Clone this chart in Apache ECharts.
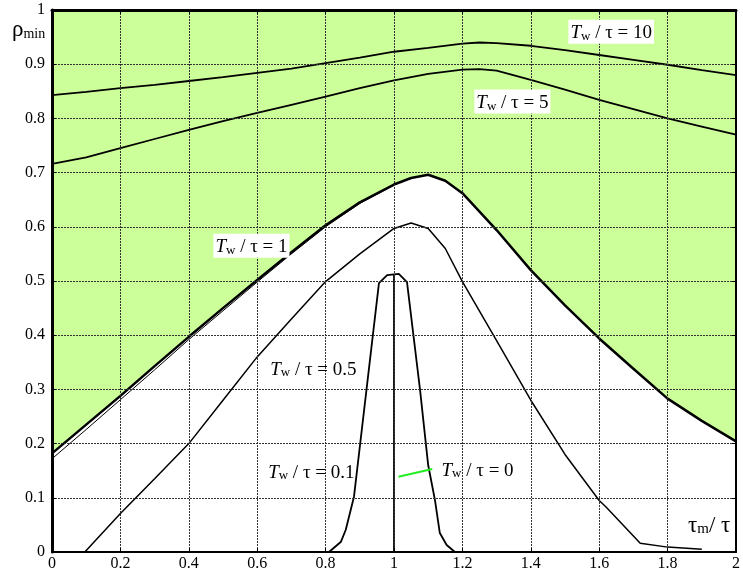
<!DOCTYPE html>
<html>
<head>
<meta charset="utf-8">
<script src="https://cdn.jsdelivr.net/npm/echarts@6/dist/echarts.min.js"></script>
<style>
  html, body { margin: 0; padding: 0; background: #fff; }
  #chart { width: 743px; height: 577px; }
</style>
</head>
<body>
<div id="chart"></div>
<script>
// rho_min vs tau_m/tau for several T_w/tau
const tw10 = [[0,0.843],[0.1,0.849],[0.2,0.856],[0.3,0.862],[0.4,0.869],[0.5,0.876],[0.6,0.884],[0.7,0.892],[0.8,0.902],[0.9,0.912],[1.0,0.923],[1.1,0.93],[1.2,0.938],[1.25,0.94],[1.3,0.939],[1.4,0.934],[1.5,0.926],[1.6,0.917],[1.7,0.908],[1.8,0.899],[1.9,0.889],[2.0,0.88]];
const tw5 = [[0,0.716],[0.1,0.728],[0.2,0.745],[0.3,0.762],[0.4,0.779],[0.5,0.795],[0.6,0.81],[0.7,0.825],[0.8,0.84],[0.9,0.856],[1.0,0.87],[1.1,0.882],[1.2,0.89],[1.25,0.891],[1.3,0.888],[1.4,0.871],[1.5,0.853],[1.6,0.834],[1.7,0.817],[1.8,0.8],[1.9,0.785],[2.0,0.77]];
const tw1 = [[0,0.182],[0.1,0.235],[0.2,0.288],[0.3,0.343],[0.4,0.397],[0.5,0.45],[0.6,0.502],[0.7,0.553],[0.8,0.603],[0.9,0.645],[1.0,0.678],[1.05,0.69],[1.1,0.696],[1.15,0.685],[1.2,0.662],[1.3,0.594],[1.4,0.52],[1.5,0.455],[1.6,0.394],[1.7,0.338],[1.8,0.283],[1.9,0.242],[2.0,0.204]];
const tw1Edge = [[0,0.172],[0.1,0.226],[0.2,0.281],[0.3,0.336],[0.4,0.392],[0.5,0.445],[0.6,0.498],[0.7,0.55],[0.8,0.6],[0.9,0.643],[1.0,0.677]];
const tw05 = [[0.096,0],[0.2,0.071],[0.3,0.135],[0.4,0.2],[0.5,0.28],[0.6,0.36],[0.7,0.43],[0.8,0.499],[0.9,0.55],[1.0,0.597],[1.05,0.607],[1.1,0.597],[1.15,0.56],[1.2,0.499],[1.3,0.39],[1.4,0.28],[1.5,0.18],[1.6,0.095],[1.62,0.083],[1.72,0.016],[1.8,0.009],[1.9,0.005]];
const tw01 = [[0.81,0],[0.845,0.019],[0.859,0.041],[0.883,0.102],[0.956,0.496],[0.98,0.511],[1.014,0.513],[1.038,0.498],[1.076,0.3],[1.1,0.16],[1.12,0.095],[1.134,0.035],[1.154,0.013],[1.178,0]];
const tw0 = [[1.0,0],[1.0,0.511]];
const pointer = [[1.013,0.139],[1.112,0.153]];

// label anchors (data coords: left edge, vertical centre)
const labels = [
  { text: '10', at: [1.51, 0.960], bg: true },
  { text: '5', at: [1.235, 0.831], bg: true },
  { text: '1', at: [0.472, 0.565], bg: true },
  { text: '0.5', at: [0.638, 0.339], bg: false },
  { text: '0.1', at: [0.632, 0.149], bg: false },
  { text: '0', at: [1.139, 0.153], bg: false }
];

const FONT = '"Liberation Serif", "DejaVu Serif", serif';
const chart = echarts.init(document.getElementById('chart'));

function axisBase(extra) {
  return Object.assign({
    type: 'value',
    z: 5,
    axisLine: { onZero: false, lineStyle: { color: '#000', width: 2 } },
    axisTick: { inside: true, length: 4, lineStyle: { color: '#000', width: 1 } },
    axisLabel: { color: '#000', fontFamily: FONT, fontSize: 16 },
    splitLine: { show: false }
  }, extra);
}

function curve(data, width) {
  return {
    type: 'line', data: data, showSymbol: false, symbol: 'none', silent: true,
    lineStyle: { color: '#000', width: width }, z: 3
  };
}

const gridLine = { show: true, lineStyle: { color: '#333', width: 1, type: [2, 1] } };

const option = {
  animation: false,
  backgroundColor: '#fff',
  grid: { left: 52, right: 1, top: 10, bottom: 25 },
  xAxis: [
    axisBase({ min: 0, max: 2, interval: 0.2, position: 'bottom',
      axisLabel: { color: '#000', fontFamily: FONT, fontSize: 16, margin: 4 },
      splitLine: gridLine }),
    axisBase({ min: 0, max: 2, interval: 0.2, position: 'top',
      axisLine: { onZero: false, lineStyle: { color: '#000', width: 3 } },
      axisLabel: { show: false } })
  ],
  yAxis: [
    axisBase({ min: 0, max: 1, interval: 0.1, position: 'left',
      axisLine: { onZero: false, lineStyle: { color: '#000', width: 3 } },
      axisLabel: { color: '#000', fontFamily: FONT, fontSize: 16, margin: 7 },
      splitLine: gridLine }),
    axisBase({ min: 0, max: 1, interval: 0.1, position: 'right', axisLabel: { show: false } })
  ],
  series: [
    Object.assign(curve(tw1, 2.5), { areaStyle: { color: '#ccff99', origin: 'end', opacity: 1 } }),
    curve(tw1Edge, 1),
    curve(tw10, 1.8),
    curve(tw5, 1.8),
    curve(tw05, 1.5),
    curve(tw01, 1.8),
    curve(tw0, 1.8),
    { type: 'line', data: pointer, showSymbol: false, symbol: 'none', silent: true,
      lineStyle: { color: '#22ee22', width: 2 }, z: 4 }
  ]
};
chart.setOption(option);

const rich = {
  t: { fontFamily: FONT, fontStyle: 'italic', fontSize: 19, lineHeight: 22, verticalAlign: 'bottom' },
  w: { fontFamily: FONT, fontSize: 13, lineHeight: 17, verticalAlign: 'bottom' },
  n: { fontFamily: FONT, fontSize: 19, lineHeight: 22, verticalAlign: 'bottom' }
};
const graphics = labels.map(function (l) {
  const p = chart.convertToPixel({ gridIndex: 0 }, l.at);
  return {
    type: 'text', x: p[0], y: p[1], z: 100,
    style: {
      text: '{t|T}{w|w}{n| / τ = ' + l.text + '}',
      rich: rich, fill: '#000',
      verticalAlign: 'middle', align: 'left',
      backgroundColor: l.bg ? '#fff' : null,
      padding: l.bg ? [1, 2, 1, 2] : 0
    }
  };
});
graphics.push({
  type: 'text', left: 12, top: 18, z: 100,
  style: {
    text: '{r|ρ}{s|min}', fill: '#000',
    rich: {
      r: { fontFamily: FONT, fontSize: 23, lineHeight: 26, verticalAlign: 'bottom' },
      s: { fontFamily: FONT, fontSize: 14, lineHeight: 19, verticalAlign: 'bottom' }
    }
  }
});
graphics.push({
  type: 'text', left: 688, top: 514, z: 100,
  style: {
    text: '{r|τ}{s|m}{r|/ τ}', fill: '#000',
    rich: {
      r: { fontFamily: FONT, fontSize: 23, lineHeight: 24, verticalAlign: 'bottom' },
      s: { fontFamily: FONT, fontSize: 15, lineHeight: 18, verticalAlign: 'bottom' }
    }
  }
});
chart.setOption({ graphic: graphics });
</script>
</body>
</html>
